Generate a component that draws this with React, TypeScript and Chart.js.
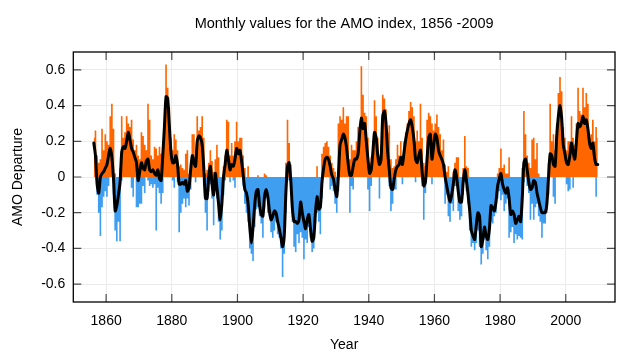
import React, { useEffect, useRef } from 'react';
import { Chart, registerables } from 'chart.js';

Chart.register(...registerables);

const TITLE = 'Monthly values for the AMO index, 1856 -2009';
const X_TITLE = 'Year';
const Y_TITLE = 'AMO Departure';

const FIRST_YEAR = 1856;
const SAMPLES_PER_YEAR = 2;
const X_MIN = 1850;
const X_MAX = 2015;
const Y_MIN = -0.7;
const Y_MAX = 0.7;

const xTickValues = [1860, 1880, 1900, 1920, 1940, 1960, 1980, 2000];
const xTickLabels = ['1860', '1880', '1900', '1920', '1940', '1960', '1980', '2000'];
const yTickValues = [-0.6, -0.4, -0.2, 0, 0.2, 0.4, 0.6];
const yTickLabels = ['-0.6', '-0.4', '-0.2', '0', '0.2', '0.4', '0.6'];

// highest monthly value in each half year (positive part), 1856 .. 2009
const rawHigh = [
  0.22, 0.26, 0.12, 0.08, 0.10, 0.27, 0.15, 0.24, 0.20, 0.18, // 1856-1860
  0.34, 0.41, 0.27, 0.02, 0, 0, 0.05, 0.34, 0.22, 0.25, // 1861-1865
  0.34, 0.30, 0.28, 0.32, 0.21, 0.15, 0.18, 0.12, 0.10, 0.25, // 1866-1870
  0.23, 0.18, 0.15, 0.41, 0.32, 0.12, 0.10, 0.17, 0.16, 0.12, // 1871-1875
  0.17, 0.13, 0.15, 0.30, 0.63, 0.50, 0.39, 0.22, 0.15, 0.24, // 1876-1880
  0.21, 0.15, 0.06, 0.07, 0.05, 0.04, 0.13, 0.15, 0.02, 0.08, // 1881-1885
  0.24, 0.24, 0.10, 0.34, 0.26, 0.28, 0.34, 0.22, 0.02, 0.04, // 1886-1890
  0.08, 0.15, 0.09, 0.03, 0.10, 0.18, 0.11, 0, 0, 0.06, // 1891-1895
  0.12, 0.32, 0.31, 0.12, 0.19, 0.12, 0.20, 0.31, 0.20, 0.22, // 1896-1900
  0.22, 0.12, 0.05, 0, 0.06, 0, 0, 0, 0, 0, // 1901-1905
  0.01, 0, 0, 0, 0.02, 0.01, 0, 0, 0, 0, // 1906-1910
  0, 0, 0, 0, 0, 0, 0, 0.08, 0.32, 0.19, // 1911-1915
  0.07, 0, 0, 0, 0, 0, 0, 0, 0, 0, // 1916-1920
  0, 0, 0, 0, 0, 0, 0.06, 0, 0, 0.13, // 1921-1925
  0.17, 0.19, 0.20, 0.17, 0.12, 0.08, 0.05, 0.03, 0, 0.30, // 1926-1930
  0.34, 0.32, 0.39, 0.30, 0.34, 0.34, 0.10, 0.18, 0.15, 0.15, // 1931-1935
  0.20, 0.28, 0.30, 0.62, 0.46, 0.36, 0.34, 0.22, 0.08, 0.11, // 1936-1940
  0.20, 0.43, 0.34, 0.22, 0.12, 0.18, 0.46, 0.44, 0.38, 0.25, // 1941-1945
  0.29, 0.10, 0.05, 0.06, 0.10, 0.18, 0.12, 0.20, 0.12, 0.20, // 1946-1950
  0.25, 0.30, 0.37, 0.42, 0.39, 0.34, 0.20, 0.26, 0.20, 0.41, // 1951-1955
  0.22, 0.08, 0.06, 0.32, 0.36, 0.34, 0.30, 0.26, 0.30, 0.35, // 1956-1960
  0.28, 0.24, 0.15, 0.21, 0.07, 0.03, 0.06, 0, 0, 0.03, // 1961-1965
  0.08, 0.11, 0.11, 0, 0, 0.05, 0.23, 0.06, 0.05, 0, // 1966-1970
  0, 0, 0, 0, 0, 0, 0, 0, 0, 0, // 1971-1975
  0, 0, 0, 0, 0, 0, 0.02, 0.05, 0.16, 0.05, // 1976-1980
  0.07, 0.02, 0.02, 0.11, 0, 0, 0, 0, 0, 0, // 1981-1985
  0, 0.05, 0.37, 0.24, 0.12, 0.08, 0.05, 0.21, 0.22, 0.10, // 1986-1990
  0.19, 0.02, 0, 0, 0, 0, 0, 0.08, 0.41, 0.20, // 1991-1995
  0.24, 0.15, 0.30, 0.47, 0.56, 0.48, 0.28, 0.22, 0.15, 0.20, // 1996-2000
  0.20, 0.34, 0.22, 0.18, 0.30, 0.50, 0.37, 0.35, 0.50, 0.39, // 2001-2005
  0.47, 0.41, 0.22, 0.24, 0.32, 0.20, 0.28, 0.22, // 2006-2009
];

// lowest monthly value in each half year (negative part), 1856 .. 2009
const rawLow = [
  0, 0, -0.10, -0.20, -0.33, -0.17, -0.11, -0.08, -0.11, -0.05, // 1856-1860
  0, 0, -0.10, -0.30, -0.36, -0.25, -0.36, -0.02, 0, 0, // 1861-1865
  0, 0, 0, -0.06, -0.11, 0, -0.17, -0.17, -0.15, -0.15, // 1866-1870
  -0.05, -0.09, 0, -0.02, -0.05, -0.04, -0.06, -0.04, -0.30, -0.06, // 1871-1875
  -0.09, -0.15, -0.09, 0, 0, 0, 0, 0, -0.02, -0.06, // 1876-1880
  0, -0.03, -0.31, -0.20, -0.15, -0.12, -0.17, -0.12, -0.16, -0.07, // 1881-1885
  0, 0, -0.03, 0, 0, 0, 0, -0.05, -0.20, -0.30, // 1886-1890
  -0.08, -0.04, -0.12, -0.27, -0.08, -0.12, -0.25, -0.35, -0.30, -0.10, // 1891-1895
  -0.02, 0, 0, -0.03, 0, -0.02, -0.06, 0, 0, 0, // 1896-1900
  0, -0.05, -0.15, -0.20, -0.25, -0.40, -0.43, -0.47, -0.28, -0.18, // 1901-1905
  -0.17, -0.22, -0.26, -0.34, -0.17, -0.12, -0.20, -0.22, -0.31, -0.34, // 1906-1910
  -0.30, -0.25, -0.32, -0.34, -0.40, -0.56, -0.43, -0.20, 0, -0.02, // 1911-1915
  -0.10, -0.25, -0.39, -0.42, -0.32, -0.37, -0.31, -0.34, -0.46, -0.35, // 1916-1920
  -0.37, -0.28, -0.34, -0.42, -0.40, -0.26, -0.20, -0.25, -0.32, -0.12, // 1921-1925
  0, 0, 0, 0, -0.07, -0.05, -0.08, -0.15, -0.20, -0.08, // 1926-1930
  0, 0, 0, 0, 0, 0, -0.20, -0.05, -0.07, 0, // 1931-1935
  0, 0, 0, 0, 0, 0, 0, -0.07, -0.19, -0.05, // 1936-1940
  0, 0, 0, 0, -0.12, 0, 0, 0, 0, 0, // 1941-1945
  -0.05, -0.19, -0.15, -0.07, -0.07, 0, 0, 0, -0.04, 0, // 1946-1950
  0, 0, 0, 0, 0, 0, -0.03, 0, 0, 0, // 1951-1955
  -0.05, -0.24, -0.09, 0, 0, 0, -0.04, 0, 0, 0, // 1956-1960
  0, 0, 0, 0, -0.15, -0.10, -0.22, -0.25, -0.15, -0.19, // 1961-1965
  -0.05, -0.05, -0.19, -0.24, -0.22, -0.10, -0.03, -0.08, -0.15, -0.30, // 1966-1970
  -0.39, -0.37, -0.41, -0.37, -0.30, -0.39, -0.49, -0.43, -0.35, -0.41, // 1971-1975
  -0.46, -0.39, -0.25, -0.26, -0.22, -0.20, -0.12, -0.08, -0.13, -0.10, // 1976-1980
  -0.19, -0.15, -0.12, -0.34, -0.31, -0.28, -0.37, -0.32, -0.35, -0.33, // 1981-1985
  -0.34, -0.35, -0.03, 0, -0.05, -0.09, -0.24, -0.15, -0.24, -0.17, // 1986-1990
  -0.15, -0.22, -0.25, -0.34, -0.26, -0.26, -0.20, -0.10, 0, 0, // 1991-1995
  -0.11, -0.15, 0, 0, 0, 0, 0, 0, -0.04, -0.08, // 1996-2000
  -0.07, 0, -0.06, 0, 0, 0, 0, 0, 0, 0, // 2001-2005
  0, 0, 0, 0, 0, 0, -0.11, 0, // 2006-2009
];

// smoothed index, half-year steps, 1856 .. 2009
const smooth = [
  0.19, 0.12, -0.04, -0.09, 0.0, 0.02, 0.03, 0.05, 0.07, 0.12, // 1856-1860
  0.16, 0.11, -0.01, -0.19, -0.16, -0.10, -0.03, 0.14, 0.17, 0.16, // 1861-1865
  0.20, 0.25, 0.21, 0.16, 0.14, 0.11, 0.08, -0.02, 0.03, 0.08, // 1866-1870
  0.05, 0.04, 0.09, 0.10, 0.04, 0.03, 0.04, 0.02, 0.01, 0.04, // 1871-1875
  -0.01, -0.02, 0.12, 0.28, 0.45, 0.44, 0.29, 0.14, 0.08, 0.08, // 1876-1880
  0.12, 0.07, -0.04, -0.04, -0.03, -0.04, -0.02, -0.08, -0.06, 0.04, // 1881-1885
  0.12, 0.08, 0.06, 0.20, 0.23, 0.22, 0.18, 0.05, -0.12, -0.12, // 1886-1890
  0.0, 0.06, -0.04, -0.10, 0.02, -0.06, -0.15, -0.24, -0.15, 0.0, // 1891-1895
  0.07, 0.15, 0.10, 0.04, 0.07, 0.06, 0.10, 0.16, 0.13, 0.15, // 1896-1900
  0.09, 0.01, -0.07, -0.09, -0.15, -0.28, -0.37, -0.28, -0.16, -0.08, // 1901-1905
  -0.07, -0.16, -0.21, -0.22, -0.11, -0.07, -0.11, -0.19, -0.24, -0.22, // 1906-1910
  -0.19, -0.20, -0.25, -0.29, -0.34, -0.39, -0.33, -0.09, 0.06, 0.08, // 1911-1915
  -0.02, -0.18, -0.25, -0.25, -0.26, -0.24, -0.14, -0.20, -0.25, -0.29, // 1916-1920
  -0.24, -0.21, -0.29, -0.36, -0.34, -0.20, -0.11, -0.18, -0.17, -0.03, // 1921-1925
  0.05, 0.10, 0.11, 0.10, 0.06, 0.01, -0.01, -0.07, -0.11, 0.01, // 1926-1930
  0.18, 0.21, 0.24, 0.22, 0.16, 0.07, 0.01, 0.01, 0.06, 0.10, // 1931-1935
  0.10, 0.13, 0.25, 0.33, 0.27, 0.30, 0.20, 0.10, 0.02, 0.04, // 1936-1940
  0.14, 0.25, 0.22, 0.12, 0.07, 0.10, 0.34, 0.37, 0.30, 0.14, // 1941-1945
  0.04, -0.06, -0.07, -0.01, 0.04, 0.06, 0.07, 0.11, 0.07, 0.14, // 1946-1950
  0.21, 0.26, 0.30, 0.32, 0.28, 0.21, 0.10, 0.08, 0.12, 0.15, // 1951-1955
  0.03, -0.05, -0.03, 0.10, 0.22, 0.24, 0.10, 0.17, 0.24, 0.22, // 1956-1960
  0.15, 0.12, 0.10, 0.07, 0.0, -0.05, -0.10, -0.14, -0.10, -0.04, // 1961-1965
  0.04, 0.0, -0.08, -0.14, -0.14, -0.03, 0.04, -0.02, -0.10, -0.19, // 1966-1970
  -0.30, -0.33, -0.35, -0.27, -0.20, -0.22, -0.39, -0.35, -0.28, -0.33, // 1971-1975
  -0.35, -0.29, -0.16, -0.17, -0.19, -0.14, -0.05, -0.01, 0.02, -0.04, // 1976-1980
  -0.07, -0.09, -0.06, -0.12, -0.21, -0.19, -0.21, -0.26, -0.24, -0.22, // 1981-1985
  -0.25, -0.12, 0.08, 0.10, 0.04, -0.03, -0.07, -0.06, -0.02, -0.03, // 1986-1990
  -0.09, -0.13, -0.17, -0.20, -0.20, -0.20, -0.15, 0.0, 0.13, 0.12, // 1991-1995
  0.07, 0.06, 0.23, 0.34, 0.40, 0.33, 0.18, 0.13, 0.08, 0.07, // 1996-2000
  0.12, 0.19, 0.14, 0.10, 0.20, 0.30, 0.28, 0.30, 0.34, 0.30, // 2001-2005
  0.32, 0.27, 0.19, 0.16, 0.19, 0.11, 0.07, 0.07, // 2006-2009
];

const ORANGE = '#ff6600';
const BLUE = '#3f9ef0';
const FONT = '"Liberation Sans", Arial, Helvetica, sans-serif';

const yearOf = (i: number) => FIRST_YEAR + (i + 0.5) / SAMPLES_PER_YEAR;

const framePlugin = {
  id: 'frame',
  afterDatasetsDraw(chart: any) {
    const { ctx, chartArea: a, scales } = chart;
    ctx.save();
    ctx.strokeStyle = '#4d4d4d';
    ctx.lineWidth = 1.2;
    const tl = 8;
    ctx.beginPath();
    xTickValues.forEach((v) => {
      const px = scales.x.getPixelForValue(v);
      ctx.moveTo(px, a.bottom);
      ctx.lineTo(px, a.bottom - tl);
      ctx.moveTo(px, a.top);
      ctx.lineTo(px, a.top + tl);
    });
    yTickValues.forEach((v) => {
      const py = scales.y.getPixelForValue(v);
      ctx.moveTo(a.left, py);
      ctx.lineTo(a.left + tl, py);
      ctx.moveTo(a.right, py);
      ctx.lineTo(a.right - tl, py);
    });
    ctx.stroke();
    ctx.strokeStyle = '#000';
    ctx.lineWidth = 1.3;
    ctx.strokeRect(a.left, a.top, a.right - a.left, a.bottom - a.top);
    ctx.restore();
  },
};

export default function App() {
  const ref = useRef<HTMLCanvasElement | null>(null);

  useEffect(() => {
    const canvas = ref.current;
    if (!canvas) return;
    const areaDataset = (values: number[], color: string, order: number) => ({
      type: 'line',
      data: values.map((v, i) => ({ x: yearOf(i), y: v })),
      stepped: 'middle',
      fill: 'origin',
      backgroundColor: color,
      borderColor: color,
      borderWidth: 0,
      pointRadius: 0,
      tension: 0,
      order,
    });
    const chart = new Chart(canvas, {
      type: 'line',
      data: {
        datasets: [
          {
            type: 'line',
            data: smooth.map((v, i) => ({ x: yearOf(i), y: v })),
            borderColor: '#000',
            borderWidth: 3,
            pointRadius: 0,
            tension: 0.25,
            fill: false,
            borderJoinStyle: 'round',
            borderCapStyle: 'round',
            order: 0,
          } as any,
          areaDataset(rawHigh, ORANGE, 1) as any,
          areaDataset(rawLow, BLUE, 2) as any,
        ],
      },
      options: {
        responsive: false,
        animation: false,
        devicePixelRatio: 1,
        layout: { padding: { left: 0, right: 25, top: 0, bottom: 0 } },
        plugins: {
          legend: { display: false },
          tooltip: { enabled: false },
          filler: { drawTime: 'beforeDatasetsDraw' },
          title: {
            display: true,
            fullSize: false,
            text: TITLE,
            color: '#000',
            font: { family: FONT, size: 14.5, weight: 'normal', lineHeight: 1.2 },
            padding: { top: 15.3, bottom: 19.3 },
          },
        },
        scales: {
          x: {
            type: 'linear',
            min: X_MIN,
            max: X_MAX,
            offset: false,
            afterBuildTicks: (scale: any) => {
              scale.ticks = xTickValues.map((v) => ({ value: v }));
            },
            afterFit: (scale: any) => {
              scale.height = 52;
            },
            ticks: {
              autoSkip: false,
              maxRotation: 0,
              padding: 10.6,
              color: '#000',
              font: { family: FONT, size: 14, lineHeight: 1.2 },
              callback: (_v: any, i: number) => xTickLabels[i],
            },
            grid: { color: '#ebebeb', lineWidth: 1, drawTicks: false, offset: false },
            border: { display: false },
            title: {
              display: true,
              text: X_TITLE,
              color: '#000',
              font: { family: FONT, size: 14, lineHeight: 1.2 },
              padding: { top: 0, bottom: 0.6 },
            },
          },
          y: {
            type: 'linear',
            min: Y_MIN,
            max: Y_MAX,
            afterBuildTicks: (scale: any) => {
              scale.ticks = yTickValues.map((v) => ({ value: v }));
            },
            afterFit: (scale: any) => {
              scale.width = 73.3;
            },
            ticks: {
              autoSkip: false,
              padding: 8,
              color: '#000',
              font: { family: FONT, size: 14, lineHeight: 1.2 },
              callback: (_v: any, i: number) => yTickLabels[i],
            },
            grid: { color: '#ebebeb', lineWidth: 1, drawTicks: false },
            border: { display: false },
            title: {
              display: true,
              text: Y_TITLE,
              color: '#000',
              font: { family: FONT, size: 14, lineHeight: 1.2 },
              padding: { top: 9.6, bottom: 0 },
            },
          },
        },
      } as any,
      plugins: [framePlugin],
    });
    return () => chart.destroy();
  }, []);

  return (
    <div style={{ position: 'absolute', left: 0, top: 0, width: 640, height: 354, background: '#fff' }}>
      <canvas ref={ref} width={640} height={354} style={{ width: 640, height: 354, display: 'block' }} />
    </div>
  );
}
